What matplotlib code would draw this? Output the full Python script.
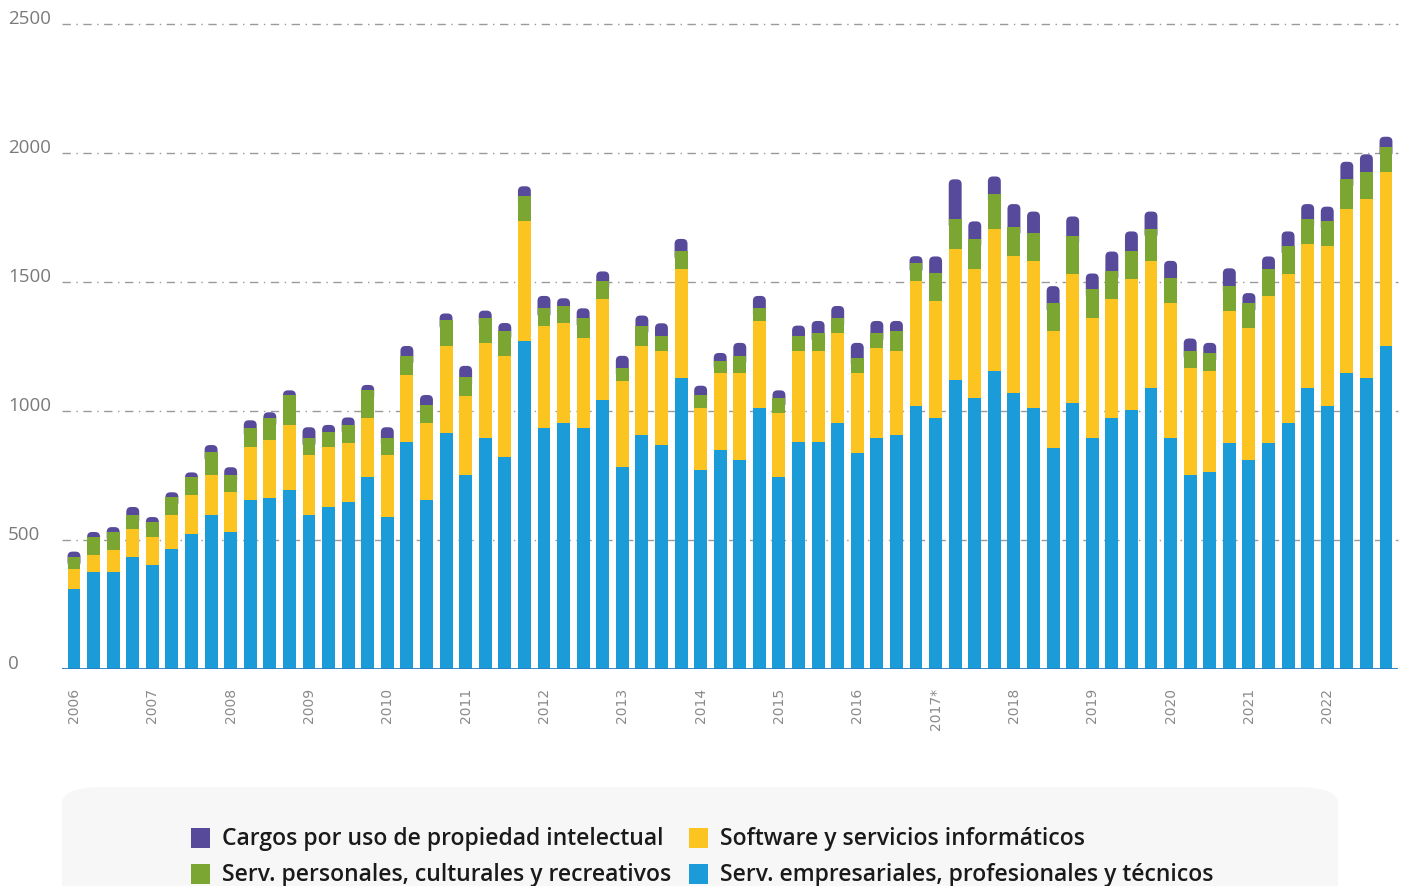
import matplotlib.pyplot as plt
from matplotlib.patches import FancyBboxPatch, Rectangle
from matplotlib.transforms import blended_transform_factory
import numpy as np

# quarterly values 2006Q1 .. 2022Q4 (stacked, read as cumulative tops from the picture)
years = ['2006', '2007', '2008', '2009', '2010', '2011', '2012', '2013', '2014',
         '2015', '2016', '2017*', '2018', '2019', '2020', '2021', '2022']

empresariales = [310, 376, 376, 434, 403, 465, 523, 597, 531, 655, 663, 694,
                 597, 628, 647, 744, 589, 880, 655, 915, 752, 895, 822, 1271,
                 934, 953, 934, 1043, 783, 907, 868, 1128, 771, 849, 810, 1012,
                 744, 880, 880, 953, 837, 895, 908, 1019, 973, 1120, 1050, 1155,
                 1069, 1012, 857, 1031, 895, 973, 1004, 1090, 895, 753, 764, 876,
                 811, 876, 954, 1090, 1019, 1147, 1128, 1251]
software_top = [388, 442, 461, 543, 512, 597, 674, 752, 686, 860, 888, 946,
                829, 860, 876, 973, 829, 1140, 953, 1252, 1058, 1264, 1213, 1736,
                1329, 1341, 1283, 1434, 1116, 1252, 1233, 1550, 1012, 1147, 1147, 1349,
                992, 1233, 1233, 1302, 1147, 1244, 1232, 1504, 1427, 1628, 1550, 1705,
                1601, 1582, 1310, 1531, 1360, 1433, 1511, 1582, 1418, 1167, 1155, 1387,
                1322, 1446, 1531, 1647, 1639, 1783, 1821, 1925]
personales_top = [435, 513, 531, 598, 570, 667, 744, 840, 753, 935, 974, 1062,
                  897, 917, 946, 1080, 897, 1213, 1023, 1352, 1130, 1359, 1311, 1832,
                  1398, 1408, 1359, 1504, 1167, 1331, 1292, 1620, 1061, 1195, 1214, 1398,
                  1050, 1292, 1302, 1359, 1205, 1302, 1311, 1572, 1533, 1743, 1667, 1841,
                  1715, 1688, 1417, 1677, 1474, 1542, 1620, 1707, 1514, 1234, 1224, 1484,
                  1417, 1552, 1639, 1743, 1735, 1898, 1927, 2023]
total = [455, 531, 550, 628, 589, 685, 762, 868, 782, 964, 995, 1080,
         937, 946, 975, 1101, 937, 1252, 1062, 1378, 1175, 1389, 1341, 1871,
         1446, 1437, 1398, 1541, 1214, 1370, 1340, 1667, 1098, 1225, 1264, 1446,
         1080, 1331, 1349, 1407, 1264, 1349, 1349, 1600, 1599, 1898, 1735, 1909,
         1802, 1773, 1484, 1754, 1533, 1618, 1696, 1773, 1582, 1281, 1264, 1553,
         1457, 1599, 1696, 1802, 1792, 1966, 1995, 2063]

emp = np.array(empresariales)
soft = np.array(software_top) - emp
pers = np.array(personales_top) - np.array(software_top)
prop = np.array(total) - np.array(personales_top)

c_blue = '#1b9cd8'
c_yellow = '#fbc421'
c_green = '#7ba632'
c_purple = '#574a9b'

fig = plt.figure(figsize=(14.07, 8.87), dpi=100)
ax = fig.add_axes([62/1407, 217/887, 1336/1407, 645/887])

x = np.arange(len(emp))
w = 0.66
ax.bar(x, emp, w, color=c_blue, zorder=3)
ax.bar(x, soft, w, bottom=emp, color=c_yellow, zorder=3)
ax.bar(x, pers, w, bottom=emp + soft, color=c_green, zorder=3)

# purple segment with a rounded top; its lower part is hidden behind the green bar
aspect = (2500 / 645) / (68.226 / 1336)
for xi, top, base in zip(x, total, personales_top):
    lo = base - 40
    p = FancyBboxPatch((xi - w/2, lo), w, top - lo,
                       boxstyle='round,pad=0,rounding_size=0.25',
                       mutation_aspect=aspect, facecolor=c_purple,
                       edgecolor='none', zorder=2.9)
    ax.add_patch(p)

ax.set_xlim(-0.613, 67.613)
ax.set_ylim(0, 2500)
for s in ax.spines.values():
    s.set_visible(False)
ax.set_xticks([])
ax.set_yticks([])

for v in [500, 1000, 1500, 2000, 2500]:
    ax.axhline(v, color='#9a9a9a', lw=1, ls=(0, (6, 4, 1, 4)), zorder=1, clip_on=False)
ax.axhline(0, color='#2a80c4', lw=2, zorder=4)

ytrans = blended_transform_factory(fig.transFigure, ax.transData)
for v in [0, 500, 1000, 1500, 2000, 2500]:
    ax.text(8/1407, v - 12, str(v), transform=ytrans,
            ha='left', va='bottom', fontsize=13.5, color='#7a7a7a', family='Open Sans')

for i, yr in enumerate(years):
    ax.text(i * 4, -70, yr, rotation=90, ha='center', va='top', fontsize=10,
            color='#8a8a8a', family='DejaVu Sans')

# legend box
box = FancyBboxPatch((62/1407, -0.05), (1338-62)/1407, (887-788)/887 + 0.05,
                     boxstyle='round,pad=0,rounding_size=0.03', transform=fig.transFigure,
                     facecolor='#f7f7f7', edgecolor='none', mutation_aspect=887/1407)
fig.patches.append(box)

legend_items = [
    ('Cargos por uso de propiedad intelectual', c_purple, 191, 839),
    ('Software y servicios informáticos', c_yellow, 689, 839),
    ('Serv. personales, culturales y recreativos', c_green, 191, 875),
    ('Serv. empresariales, profesionales y técnicos', c_blue, 689, 875),
]
for label, col, px, py in legend_items:
    fig.patches.append(Rectangle((px/1407, (887 - py - 10)/887), 19/1407, 20/887,
                                 transform=fig.transFigure, facecolor=col, edgecolor='none'))
    fig.text((px + 31)/1407, (887 - py)/887, label, ha='left', va='center',
             fontsize=16.5, fontweight='semibold', color='#1a1a1a', family='Open Sans')

fig.savefig('out.png', dpi=100)
